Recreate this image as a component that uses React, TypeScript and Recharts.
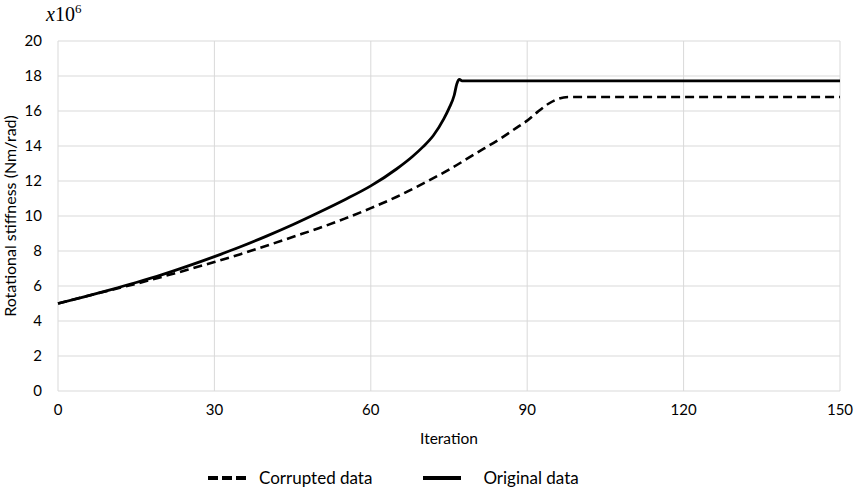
import { CartesianGrid, Legend, Line, LineChart, XAxis, YAxis } from "recharts";

// Original data (solid line)
const originalIter = [0, 5, 10, 15, 20, 25, 30, 35, 40, 45, 50, 55, 60, 65, 68, 70, 72, 74, 75, 76, 76.5, 77, 77.5, 80, 100, 120, 150];
const originalStiff = [5.0, 5.38, 5.78, 6.2, 6.65, 7.15, 7.68, 8.24, 8.85, 9.5, 10.2, 10.93, 11.72, 12.7, 13.4, 13.95, 14.6, 15.55, 16.15, 16.9, 17.55, 17.8, 17.72, 17.72, 17.72, 17.72, 17.72];

// Corrupted data (dashed line)
const corruptedIter = [0, 5, 10, 15, 20, 25, 30, 35, 40, 45, 50, 55, 60, 65, 70, 75, 80, 85, 88, 90, 92, 94, 96, 98, 100, 120, 150];
const corruptedStiff = [5.0, 5.38, 5.76, 6.13, 6.53, 6.94, 7.37, 7.82, 8.3, 8.8, 9.3, 9.85, 10.45, 11.1, 11.85, 12.65, 13.55, 14.45, 15.05, 15.45, 15.95, 16.4, 16.7, 16.8, 16.8, 16.8, 16.8];

const xTicks = [0, 30, 60, 90, 120, 150];
const yTicks = [0, 2, 4, 6, 8, 10, 12, 14, 16, 18, 20];

const original = originalIter.map((x, i) => ({ x, y: originalStiff[i] }));
const corrupted = corruptedIter.map((x, i) => ({ x, y: corruptedStiff[i] }));

const font = "Lato, 'Open Sans', sans-serif";

const renderLegend = () => (
    <div style={{ display: "flex", alignItems: "center", fontFamily: font, fontSize: 17, color: "#000", paddingLeft: 208, paddingTop: 16 }}>
        <svg width={44} height={10}>
            <line x1={0} y1={5} x2={42} y2={5} stroke="#000" strokeWidth={4} strokeDasharray="10 4" />
        </svg>
        <span style={{ marginLeft: 7 }}>Corrupted data</span>
        <svg width={40} height={10} style={{ marginLeft: 51 }}>
            <line x1={0} y1={5} x2={38} y2={5} stroke="#000" strokeWidth={4} />
        </svg>
        <span style={{ marginLeft: 20 }}>Original data</span>
    </div>
);

export default function App() {
    return (
        <div style={{ position: "absolute", left: 0, top: 0, width: 857, height: 489, background: "#fff" }}>
            <div style={{ position: "absolute", left: 46, top: 1, fontFamily: "'Liberation Serif', serif", fontSize: 20, color: "#000" }}>
                <i>x</i>10<sup style={{ fontSize: 13 }}>6</sup>
            </div>
            <LineChart width={857} height={489} margin={{ top: 41, right: 17, bottom: 0, left: 0 }}>
                <CartesianGrid stroke="#d9d9d9" strokeWidth={1} />
                <XAxis
                    dataKey="x"
                    type="number"
                    domain={[0, 150]}
                    ticks={xTicks}
                    allowDuplicatedCategory={false}
                    axisLine={false}
                    tickLine={false}
                    tickSize={0}
                    tickMargin={13}
                    height={60}
                    tick={{ fill: "#000", fontSize: 15, fontFamily: font }}
                    label={{ value: "Iteration", position: "insideBottom", offset: 7, fill: "#000", fontSize: 15.5, fontFamily: font }}
                />
                <YAxis
                    type="number"
                    domain={[0, 20]}
                    ticks={yTicks}
                    axisLine={false}
                    tickLine={false}
                    tickSize={0}
                    tickMargin={16}
                    width={58}
                    tick={{ fill: "#000", fontSize: 15, fontFamily: font }}
                    label={{ value: "Rotational stiffness (Nm/rad)", angle: -90, position: "insideLeft", offset: 10, fill: "#000", fontSize: 16, fontFamily: font, style: { textAnchor: "middle" } }}
                />
                <Legend verticalAlign="bottom" content={renderLegend} wrapperStyle={{ height: 38 }} />
                <Line
                    data={corrupted}
                    dataKey="y"
                    name="Corrupted data"
                    type="monotone"
                    stroke="#000"
                    strokeWidth={2.6}
                    strokeDasharray="9 5"
                    dot={false}
                    isAnimationActive={false}
                />
                <Line
                    data={original}
                    dataKey="y"
                    name="Original data"
                    type="monotone"
                    stroke="#000"
                    strokeWidth={2.8}
                    dot={false}
                    isAnimationActive={false}
                />
            </LineChart>
        </div>
    );
}
